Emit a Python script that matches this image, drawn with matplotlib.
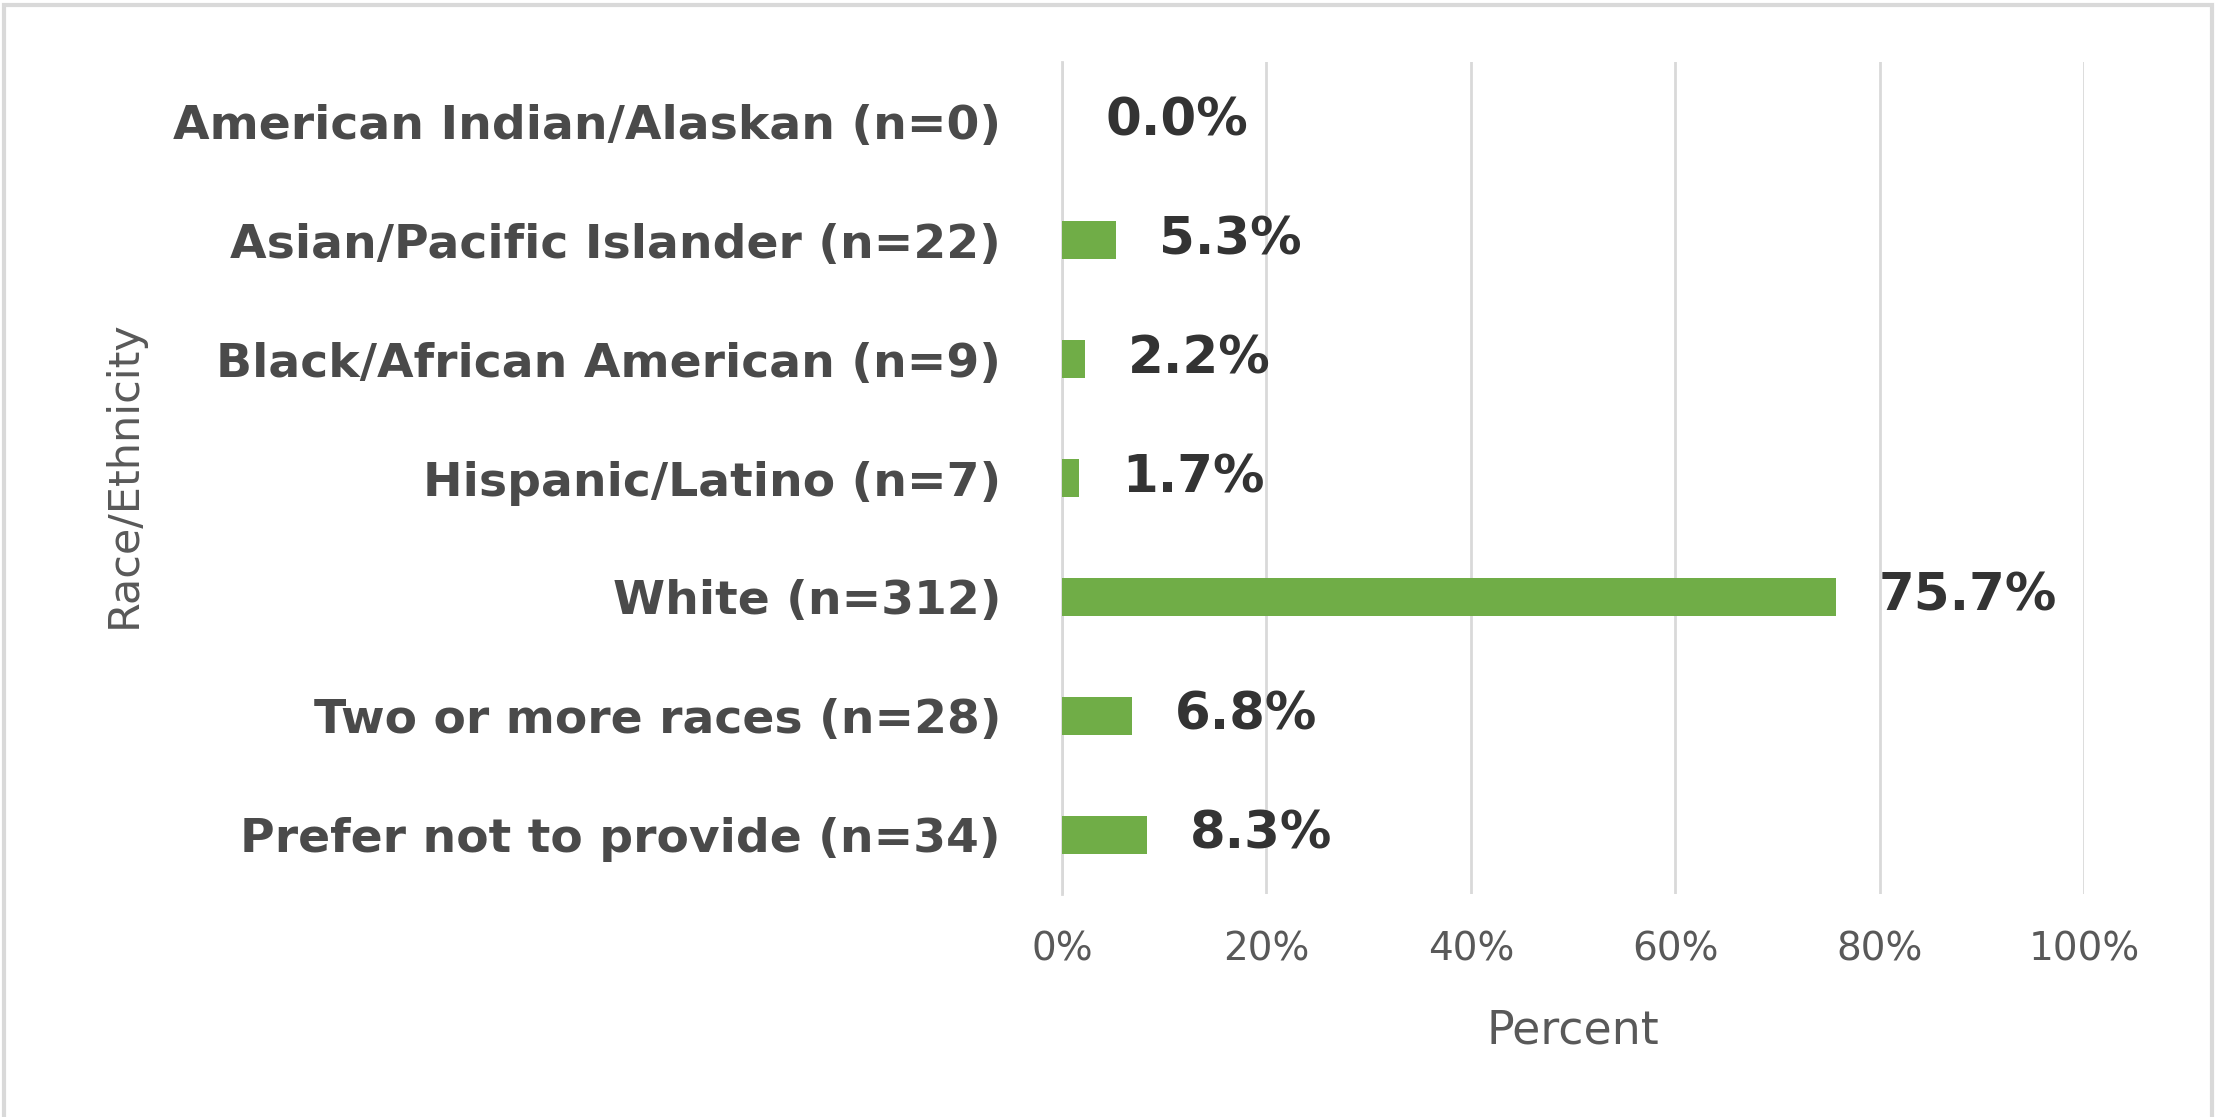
import matplotlib.pyplot as plt
from matplotlib.patches import Rectangle

categories = [
    'American Indian/Alaskan (n=0)',
    'Asian/Pacific Islander (n=22)',
    'Black/African American (n=9)',
    'Hispanic/Latino (n=7)',
    'White (n=312)',
    'Two or more races (n=28)',
    'Prefer not to provide (n=34)',
]
percents = [0.0, 5.3, 2.2, 1.7, 75.7, 6.8, 8.3]
x_ticks = [0, 20, 40, 60, 80, 100]

fig = plt.figure(figsize=(22.15, 11.17), dpi=100)
ax = fig.add_axes([0.4795, 0.1996, 0.4614, 0.7449])

ypos = list(range(len(categories)))
ax.barh(ypos, percents, height=0.32, color='#70AD47', zorder=3)
ax.set_ylim(len(categories) - 0.5, -0.5)
ax.set_xlim(0, 100)

for y, v in zip(ypos, percents):
    ax.annotate(f'{v:.1f}%', xy=(v, y), xytext=(31, 0), textcoords='offset points',
                va='center', ha='left', fontsize=37, fontweight='bold', color='#333333')

ax.set_yticks(ypos)
ax.set_yticklabels(categories, fontsize=34, fontweight='bold', color='#4a4a4a')
ax.set_xticks(x_ticks)
ax.set_xticklabels([f'{t}%' for t in x_ticks], fontsize=28, color='#595959')
ax.tick_params(axis='y', length=0, pad=44)
ax.tick_params(axis='x', length=0, pad=26)

ax.grid(axis='x', color='#d9d9d9', linewidth=2, zorder=0)
for s in ['top', 'right', 'bottom']:
    ax.spines[s].set_visible(False)
ax.spines['left'].set_color('#d9d9d9')
ax.spines['left'].set_linewidth(2)

ax.set_xlabel('Percent', fontsize=33, color='#595959')
ax.xaxis.set_label_coords(0.5, -0.165)
ax.xaxis.label.set_va('center')
ax.set_ylabel('Race/Ethnicity', fontsize=31, color='#595959')
ax.yaxis.set_label_coords(-0.918, 0.505)
ax.yaxis.label.set_va('center')

# light grey frame around the chart
fig.patches.append(Rectangle((4 / 2215, -0.05), 2208 / 2215, 1.05 - 5 / 1117,
                             transform=fig.transFigure, fill=False,
                             edgecolor='#d9d9d9', linewidth=3))

fig.savefig('out.png', dpi=100)
